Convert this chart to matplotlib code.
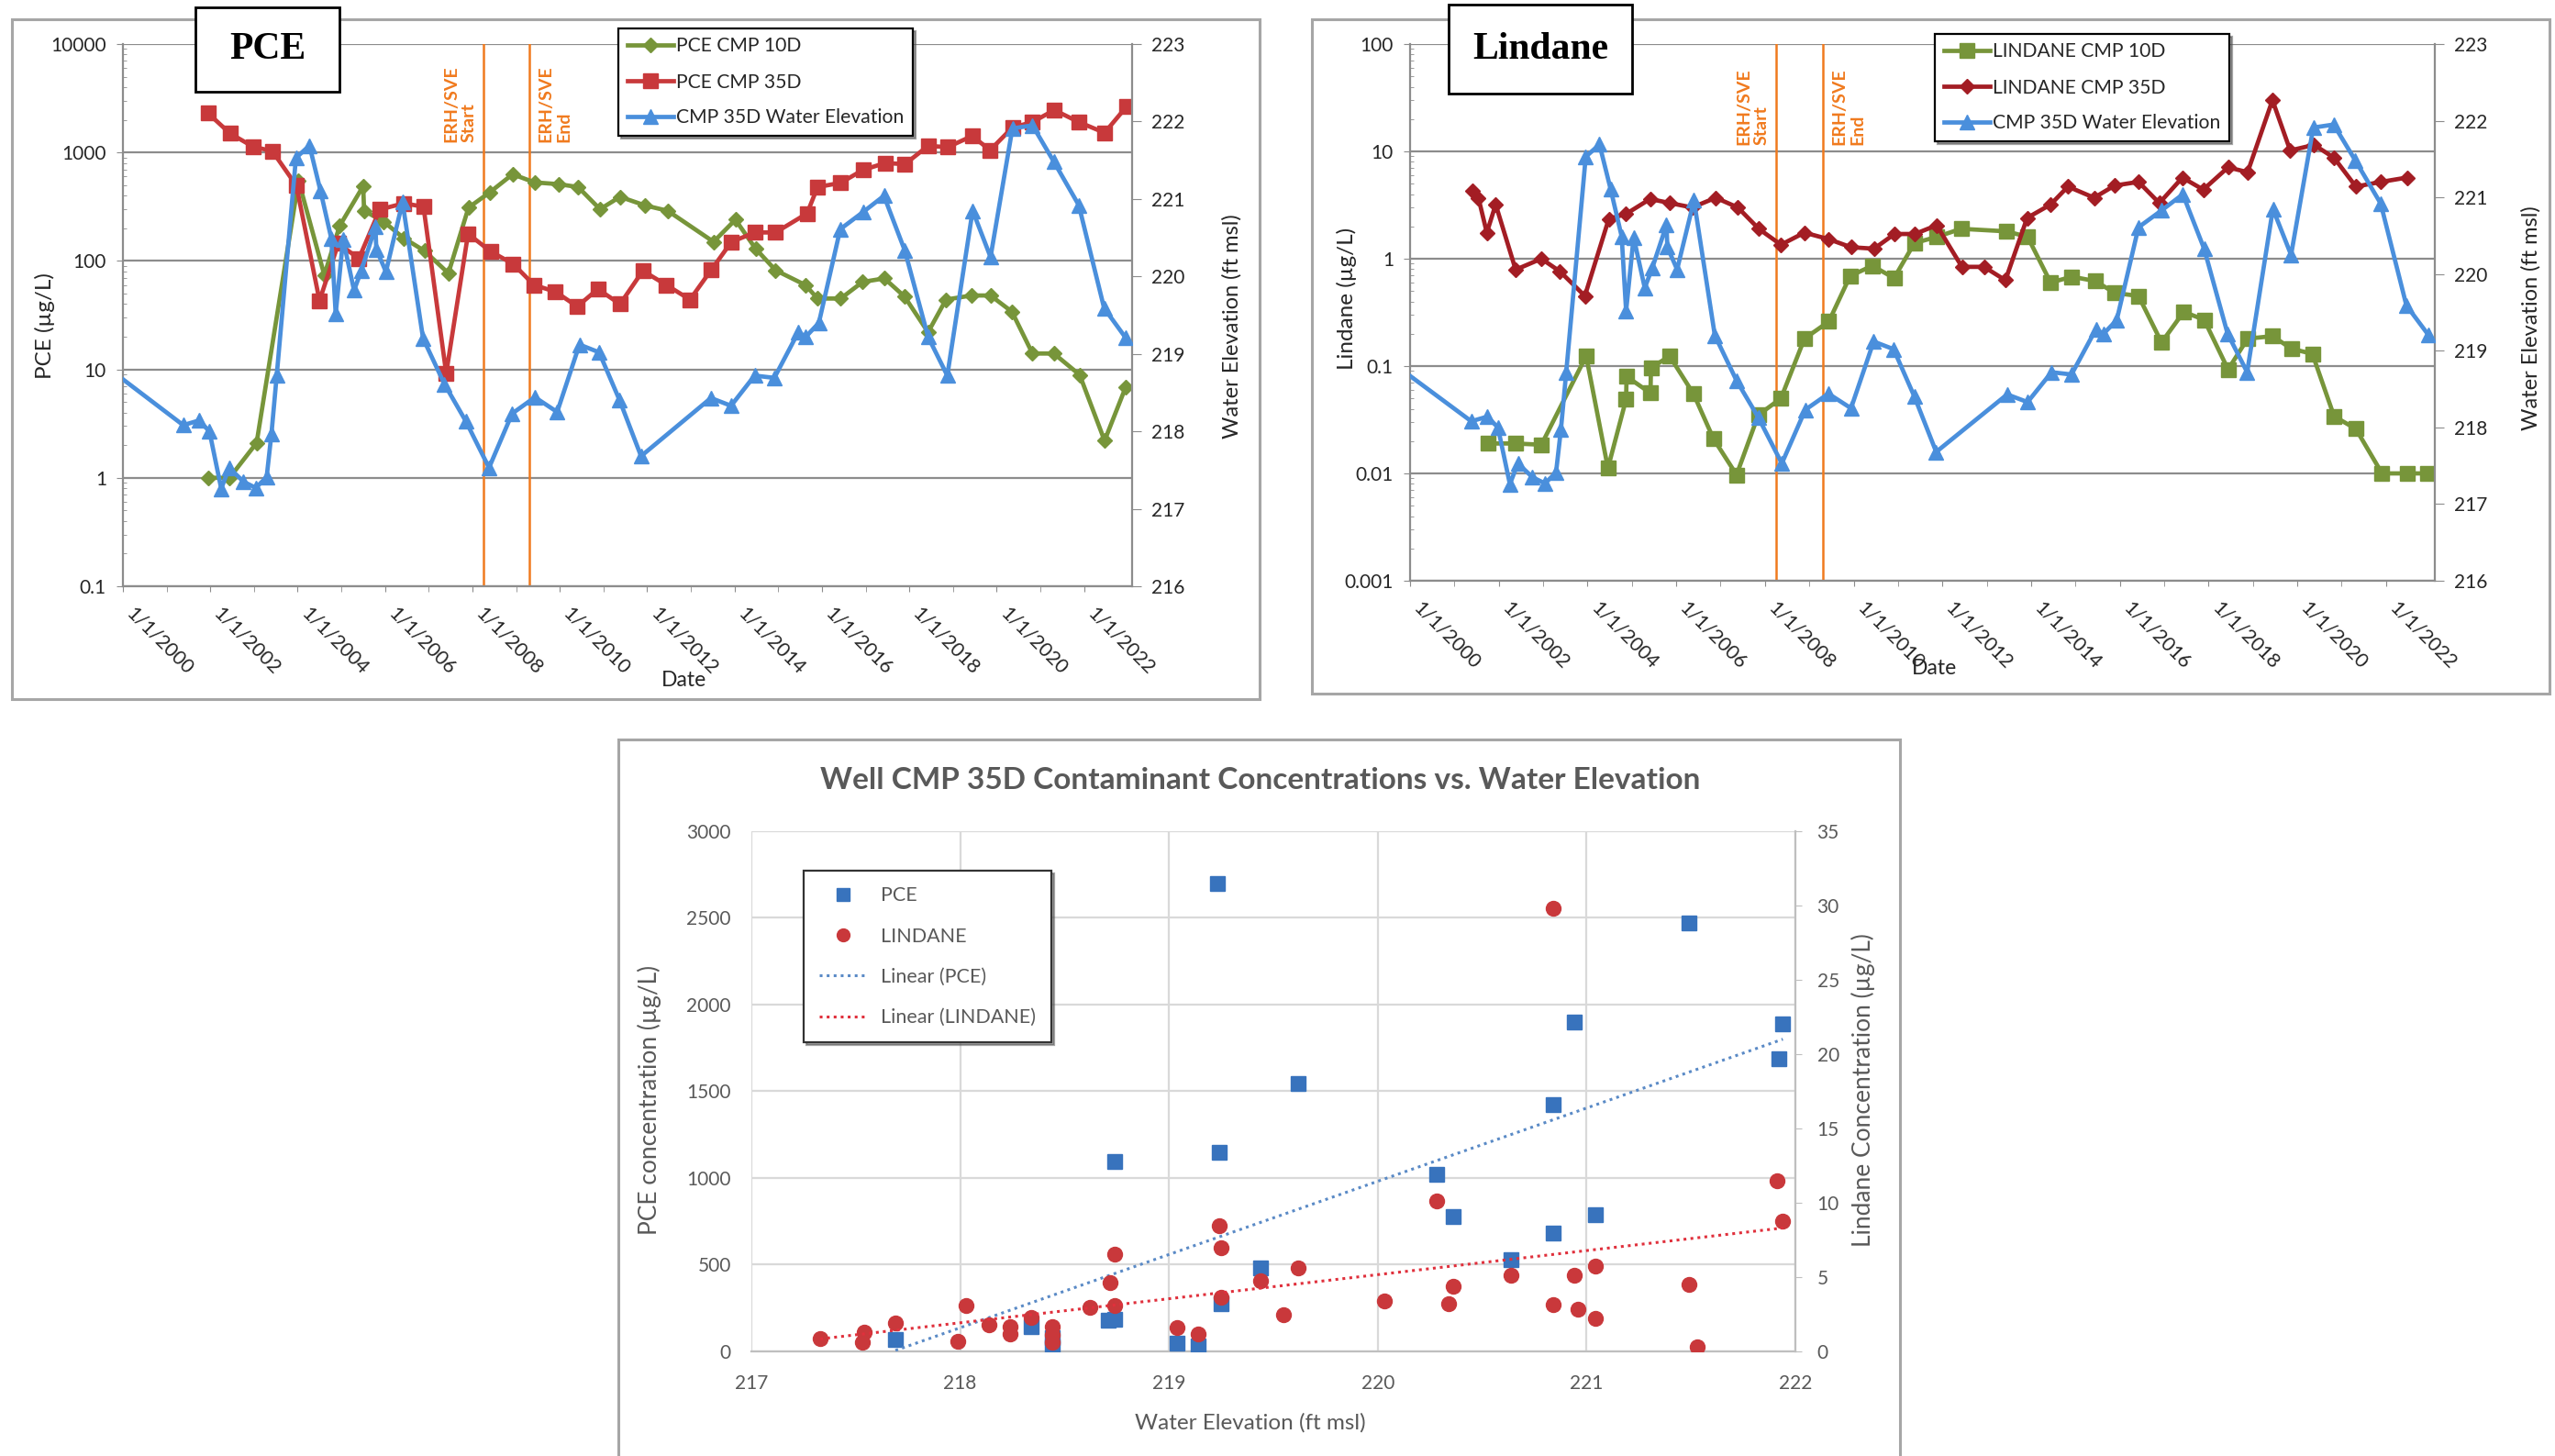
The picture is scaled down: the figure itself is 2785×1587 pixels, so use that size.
import numpy as np
import matplotlib
matplotlib.use('Agg')
import matplotlib.pyplot as plt
from matplotlib.patches import Rectangle
from matplotlib.lines import Line2D
from matplotlib.ticker import FuncFormatter, NullFormatter, LogLocator

plt.rcParams['font.family'] = ['Lato', 'DejaVu Sans']

# --- Data (decimal years) ---
# CMP 35D water elevation, ft msl (same well in both time charts)
elev_dates = [1999.0, 2001.38, 2001.74, 2001.98, 2002.25, 2002.43, 2002.76, 2003.04, 2003.29, 2003.40,
              2003.52, 2003.96, 2004.27, 2004.52, 2004.77, 2004.87, 2005.04, 2005.29, 2005.46, 2005.78,
              2005.80, 2006.02, 2006.40, 2006.87, 2007.36, 2007.85, 2008.38, 2008.91, 2009.43, 2009.94,
              2010.45, 2010.90, 2011.37, 2011.86, 2013.46, 2013.92, 2014.46, 2014.91, 2015.46, 2015.63,
              2015.93, 2016.42, 2016.94, 2017.42, 2017.90, 2018.43, 2018.87, 2019.45, 2019.86, 2020.36,
              2020.82, 2021.31, 2021.88, 2022.46, 2022.95]
elev_ft = [219.1, 218.08, 218.14, 218.0, 217.26, 217.53, 217.35, 217.27, 217.41, 217.97,
           218.72, 221.53, 221.69, 221.11, 220.49, 219.52, 220.48, 219.82, 220.08, 220.64,
           220.35, 220.06, 220.96, 219.2, 218.61, 218.13, 217.53, 218.23, 218.44, 218.25,
           219.12, 219.02, 218.4, 217.68, 218.43, 218.33, 218.72, 218.69, 219.28, 219.22,
           219.4, 220.61, 220.83, 221.04, 220.33, 219.22, 218.72, 220.85, 220.25, 221.91,
           221.95, 221.48, 220.92, 219.59, 219.21]

pce_10d_dates = [2001.95, 2002.44, 2003.06, 2004.02, 2004.61, 2004.96, 2005.50, 2005.52, 2005.97, 2006.43,
                 2006.90, 2007.45, 2007.91, 2008.40, 2008.92, 2009.42, 2009.98, 2010.42, 2010.92, 2011.38,
                 2011.95, 2012.47, 2013.52, 2014.02, 2014.48, 2014.94, 2015.62, 2015.90, 2016.43, 2016.93,
                 2017.43, 2017.89, 2018.43, 2018.84, 2019.42, 2019.86, 2020.35, 2020.82, 2021.31, 2021.90,
                 2022.47, 2022.95]
pce_10d = [1.0, 1.0, 2.1, 550, 74, 210, 490, 290, 230, 162,
           124, 77, 310, 430, 630, 530, 510, 480, 300, 390,
           325, 290, 150, 240, 130, 82, 60, 45, 45, 64,
           69, 47, 22, 44, 48, 48, 34, 14, 14, 8.9,
           2.2, 6.8]

pce_35d_dates = [2001.95, 2002.45, 2002.98, 2003.42, 2003.97, 2004.50, 2004.93, 2005.40, 2005.88, 2006.43,
                 2006.88, 2007.40, 2007.90, 2008.42, 2008.93, 2009.41, 2009.90, 2010.40, 2010.87, 2011.38,
                 2011.90, 2012.44, 2012.98, 2013.47, 2013.93, 2014.47, 2014.94, 2015.66, 2015.90, 2016.43,
                 2016.94, 2017.45, 2017.90, 2018.43, 2018.88, 2019.44, 2019.85, 2020.36, 2020.81, 2021.32,
                 2021.89, 2022.47, 2022.97]
pce_35d = [2300, 1500, 1130, 1030, 495, 43, 145, 105, 298, 340,
           316, 9.2, 178, 122, 94, 60, 52, 38, 55, 40,
           81, 60, 44, 83, 150, 183, 183, 274, 480, 525,
           690, 800, 780, 1150, 1120, 1420, 1050, 1700, 1900, 2460,
           1900, 1520, 2640]

lin_10d_dates = [2001.76, 2002.37, 2002.96, 2003.97, 2004.46, 2004.87, 2004.88, 2005.42, 2005.43, 2005.85,
                 2006.39, 2006.84, 2007.36, 2007.85, 2008.36, 2008.89, 2009.44, 2009.92, 2010.42, 2010.91,
                 2011.37, 2011.88, 2012.42, 2013.44, 2013.92, 2014.44, 2014.92, 2015.44, 2015.89, 2016.42,
                 2016.94, 2017.44, 2017.90, 2018.44, 2018.88, 2019.44, 2019.87, 2020.34, 2020.83, 2021.32,
                 2021.91, 2022.47, 2022.94]
lin_10d = [0.019, 0.019, 0.0185, 0.124, 0.0112, 0.049, 0.080, 0.056, 0.096, 0.124,
           0.055, 0.021, 0.0097, 0.035, 0.050, 0.18, 0.26, 0.69, 0.86, 0.66,
           1.4, 1.6, 1.9, 1.8, 1.6, 0.6, 0.68, 0.62, 0.48, 0.45,
           0.166, 0.32, 0.27, 0.093, 0.18, 0.19, 0.145, 0.13, 0.034, 0.026,
           0.01, 0.01, 0.01]

lin_35d_dates = [2001.40, 2001.54, 2001.73, 2001.93, 2002.38, 2002.96, 2003.38, 2003.94, 2004.48, 2004.86,
                 2005.41, 2005.86, 2006.36, 2006.89, 2007.39, 2007.86, 2008.36, 2008.89, 2009.44, 2009.94,
                 2010.46, 2010.92, 2011.38, 2011.87, 2012.44, 2012.94, 2013.42, 2013.91, 2014.44, 2014.83,
                 2015.42, 2015.88, 2016.42, 2016.89, 2017.41, 2017.88, 2018.44, 2018.88, 2019.44, 2019.84,
                 2020.38, 2020.83, 2021.32, 2021.89, 2022.47]
lin_35d = [4.3, 3.7, 1.75, 3.2, 0.79, 1.0, 0.76, 0.45, 2.35, 2.6,
           3.6, 3.3, 3.0, 3.7, 3.0, 1.9, 1.35, 1.75, 1.52, 1.28,
           1.24, 1.7, 1.7, 2.05, 0.84, 0.84, 0.63, 2.4, 3.2, 4.7,
           3.7, 4.8, 5.2, 3.3, 5.7, 4.4, 7.1, 6.4, 30, 10.2,
           11.5, 8.7, 4.7, 5.2, 5.7]

erh_start, erh_end = 2008.25, 2009.30
date_ticks = list(range(2000, 2023, 2))
date_labels = ['1/1/%d' % y for y in date_ticks]

# scatter: well CMP 35D concentration vs water elevation
sc_pce_elev = [217.69, 218.34, 218.44, 218.44, 218.71, 218.74, 218.74, 219.04, 219.14, 219.23,
               219.24, 219.25, 219.44, 219.62, 220.28, 220.36, 220.64, 220.84, 220.84, 220.94,
               221.04, 221.49, 221.92, 221.94]
sc_pce = [67, 142, 25, 80, 178, 186, 1094, 49, 30, 2695,
          1147, 277, 480, 1545, 1018, 778, 527, 1420, 682, 1898,
          786, 2469, 1686, 1885]
sc_lin_elev = [217.33, 217.54, 217.53, 217.69, 217.99, 218.03, 218.14, 218.24, 218.24, 218.34,
               218.44, 218.44, 218.44, 218.62, 218.72, 218.74, 218.74, 219.04, 219.14, 219.24,
               219.25, 219.25, 219.44, 219.55, 219.62, 220.03, 220.28, 220.34, 220.36, 220.64,
               220.84, 220.84, 220.94, 220.96, 221.04, 221.04, 221.49, 221.53, 221.91, 221.94]
sc_lin = [0.88, 1.29, 0.61, 1.90, 0.68, 3.07, 1.80, 1.66, 1.19, 2.31,
          1.66, 1.1, 0.61, 2.93, 4.63, 3.07, 6.51, 1.60, 1.19, 8.45,
          6.98, 3.64, 4.77, 2.48, 5.59, 3.39, 10.1, 3.22, 4.35, 5.10,
          29.8, 3.16, 5.10, 2.86, 5.71, 2.20, 4.53, 0.33, 11.5, 8.73]

# --- Colours ---
GREEN = '#77953a'
RED = '#c8393b'
DARKRED = '#a31d24'
BLUE = '#4a8fdc'
ORANGE = '#f07a1e'
GRID = '#8c8c8c'
TXT = '#262626'

W, H = 2785, 1587
fig = plt.figure(figsize=(W / 100, H / 100), dpi=100)


def px_rect(x0, y0, x1, y1):
    # pixel box measured from top-left -> figure fraction [l, b, w, h]
    return [x0 / W, 1 - y1 / H, (x1 - x0) / W, (y1 - y0) / H]


def frame(x0, y0, x1, y1, color='#a6a6a6', lw=2.2):
    l, b, w, h = px_rect(x0, y0, x1, y1)
    fig.add_artist(Rectangle((l, b), w, h, transform=fig.transFigure, fill=False,
                             edgecolor=color, linewidth=lw, zorder=-1))


def title_box(x0, y0, x1, y1, text):
    l, b, w, h = px_rect(x0, y0, x1, y1)
    fig.add_artist(Rectangle((l, b), w, h, transform=fig.transFigure, facecolor='white',
                             edgecolor='black', linewidth=2, zorder=5))
    fig.text(l + w / 2, b + h / 2, text, ha='center', va='center', fontsize=30,
             fontweight='bold', family='Liberation Serif', zorder=6)


def time_panel(ax_px, series, ylabel, ylim, yticks, erh_y, legend_xy, ylab_pos, rlab_pos, date_pos):
    ax = fig.add_axes(px_rect(*ax_px))
    ax.set_yscale('log')
    ax.set_ylim(*ylim)
    ax.set_xlim(2000, 2023.1)
    ax.set_yticks(yticks)
    ax.yaxis.set_major_formatter(FuncFormatter(lambda v, p: '%g' % v))
    ax.yaxis.set_minor_locator(LogLocator(base=10, subs=np.arange(2, 10)))
    ax.yaxis.set_minor_formatter(NullFormatter())
    ax.set_xticks(date_ticks)
    ax.set_xticklabels(date_labels, rotation=-45, ha='left', rotation_mode='default')
    ax.set_xticks(range(2001, 2023, 2), minor=True)
    ax.grid(axis='y', which='major', color=GRID, lw=1.6)
    ax.set_axisbelow(True)
    for s in ['top', 'right']:
        ax.spines[s].set_visible(False)
    for s in ['left', 'bottom']:
        ax.spines[s].set_color(GRID)
        ax.spines[s].set_linewidth(1.6)
    ax.tick_params(axis='y', which='major', direction='out', length=5, color=GRID,
                   labelsize=15, labelcolor=TXT, pad=8)
    ax.tick_params(axis='y', which='minor', direction='in', length=3, color=GRID)
    ax.tick_params(axis='x', which='both', direction='out', length=4, color=GRID,
                   labelsize=15.5, labelcolor=TXT, pad=10)

    handles = []
    for d, v, lab, color, mk, ms in series:
        h, = ax.plot(d, v, color=color, lw=3.4, marker=mk, ms=ms, label=lab, zorder=3)
        handles.append(h)

    ax.axvline(erh_start, color=ORANGE, lw=1.8, zorder=1)
    ax.axvline(erh_end, color=ORANGE, lw=1.8, zorder=1)
    ax.annotate('ERH/SVE\nStart', xy=(erh_start, erh_y), xytext=(-5, 0), textcoords='offset points',
                rotation=90, ha='right', va='bottom', multialignment='left', color=ORANGE,
                fontsize=14, fontweight='bold')
    ax.annotate('ERH/SVE\nEnd', xy=(erh_end, erh_y), xytext=(7, 0), textcoords='offset points',
                rotation=90, ha='left', va='bottom', multialignment='left', color=ORANGE,
                fontsize=14, fontweight='bold')

    ax.set_ylabel(ylabel, fontsize=17.5, color=TXT)
    ax.yaxis.set_label_coords(*ylab_pos)
    ax.text(date_pos[0], date_pos[1], 'Date', transform=ax.transAxes, ha='center', va='center',
            fontsize=16.5, color=TXT)

    ax2 = ax.twinx()
    ax2.set_ylim(216, 223)
    ax2.set_yticks(range(216, 224))
    h, = ax2.plot(elev_dates, elev_ft, color=BLUE, lw=3.4, marker='^', ms=11,
                  label='CMP 35D Water Elevation', zorder=4)
    handles.append(h)
    for s in ['top', 'left', 'bottom']:
        ax2.spines[s].set_visible(False)
    ax2.spines['right'].set_color(GRID)
    ax2.spines['right'].set_linewidth(1.6)
    ax2.tick_params(axis='y', direction='out', length=7, color=GRID, labelsize=15,
                    labelcolor=TXT, pad=8)
    ax2.set_ylabel('Water Elevation (ft msl)', fontsize=17, color=TXT)
    ax2.yaxis.set_label_coords(*rlab_pos)

    leg = ax2.legend(handles, [hh.get_label() for hh in handles], loc='upper left',
                     bbox_to_anchor=(legend_xy[0] / W, 1 - legend_xy[1] / H),
                     bbox_transform=fig.transFigure, frameon=True, fancybox=False, shadow=True,
                     edgecolor='black', fontsize=15.2, handlelength=2.4, handletextpad=0.15,
                     borderpad=0.45, labelspacing=0.9, borderaxespad=0, numpoints=1)
    leg.get_frame().set_linewidth(1.6)
    for t in leg.get_texts():
        t.set_color(TXT)
    return ax, ax2


# --- PCE panel ---
frame(13, 21, 1373, 762)
time_panel((134, 48, 1234, 639),
           [(pce_10d_dates, pce_10d, 'PCE CMP 10D', GREEN, 'D', 8),
            (pce_35d_dates, pce_35d, 'PCE CMP 35D', RED, 's', 11)],
           'PCE (µg/L)', (0.1, 10000), [0.1, 1, 10, 100, 1000, 10000], 1245,
           (674, 31), (-0.067, 0.48), (1.0895, 0.48), (0.556, -0.173))
title_box(213, 8, 370, 100, 'PCE')

# --- Lindane panel ---
frame(1430, 21, 2779, 756)
time_panel((1537, 48, 2654, 633),
           [(lin_10d_dates, lin_10d, 'LINDANE CMP 10D', GREEN, 's', 11),
            (lin_35d_dates, lin_35d, 'LINDANE CMP 35D', DARKRED, 'D', 8)],
           'Lindane (µg/L)', (0.001, 100), [0.001, 0.01, 0.1, 1, 10, 100], 11.5,
           (2109, 37), (-0.052, 0.525), (1.084, 0.49), (0.512, -0.164))
title_box(1579, 5, 1779, 102, 'Lindane')

# --- Scatter panel ---
SC_TXT = '#595959'
SC_BLUE = '#3873bd'
SC_RED = '#c9383b'
frame(674, 806, 2071, 1600)
axs = fig.add_axes(px_rect(819, 905.5, 1957, 1473))
axs.set_xlim(217, 222)
axs.set_ylim(0, 3000)
axs.set_xticks(range(217, 223))
axs.set_yticks(range(0, 3001, 500))
axs.grid(True, color='#d9d9d9', lw=1.6)
axs.set_axisbelow(True)
for s in ['left', 'top', 'right']:
    axs.spines[s].set_visible(False)
axs.spines['bottom'].set_color('#bfbfbf')
axs.spines['bottom'].set_linewidth(1.6)
axs.tick_params(length=0, labelsize=15, labelcolor=SC_TXT)
axs.tick_params(axis='y', pad=16)
axs.tick_params(axis='x', pad=18)
axs.plot(sc_pce_elev, sc_pce, linestyle='none', marker='s', ms=11.5, color=SC_BLUE, zorder=3)
p_fit = np.polyfit(sc_pce_elev, sc_pce, 1)
xs_p = np.array([min(sc_pce_elev), max(sc_pce_elev)])
axs.plot(xs_p, np.polyval(p_fit, xs_p), color='#5a8ac6', lw=2.2, linestyle=(0, (1, 1.5)), zorder=4)
axs.set_xlabel('Water Elevation (ft msl)', fontsize=17.5, color=SC_TXT)
axs.xaxis.set_label_coords(0.478, -0.118)
axs.set_ylabel('PCE concentration (µg/L)', fontsize=19, color=SC_TXT)
axs.yaxis.set_label_coords(-0.0857, 0.483)

axl = axs.twinx()
axl.set_ylim(0, 35)
axl.set_yticks(range(0, 36, 5))
for s in ['left', 'top', 'bottom']:
    axl.spines[s].set_visible(False)
axl.spines['right'].set_color('#bfbfbf')
axl.spines['right'].set_linewidth(1.6)
axl.tick_params(axis='y', length=5, color='#bfbfbf', labelsize=15, labelcolor=SC_TXT, pad=12)
axl.plot(sc_lin_elev, sc_lin, linestyle='none', marker='o', ms=11.5, color=SC_RED, zorder=3)
l_fit = np.polyfit(sc_lin_elev, sc_lin, 1)
xs_l = np.array([min(sc_lin_elev), max(sc_lin_elev)])
axl.plot(xs_l, np.polyval(l_fit, xs_l), color='#e0303c', lw=2.2, linestyle=(0, (1, 1.5)), zorder=4)
axl.set_ylabel('Lindane Concentration (µg/L)', fontsize=19, color=SC_TXT)
axl.yaxis.set_label_coords(1.0536, 0.502)

sc_handles = [Line2D([], [], linestyle='none', marker='s', ms=10, color=SC_BLUE),
              Line2D([], [], linestyle='none', marker='o', ms=10, color=SC_RED),
              Line2D([], [], color='#5a8ac6', lw=2.2, linestyle=(0, (1, 1.5))),
              Line2D([], [], color='#e0303c', lw=2.2, linestyle=(0, (1, 1.5)))]
sc_leg = axl.legend(sc_handles, ['PCE', 'LINDANE', 'Linear (PCE)', 'Linear (LINDANE)'],
                    loc='upper left', bbox_to_anchor=(876 / W, 1 - 949 / H),
                    bbox_transform=fig.transFigure, frameon=True, fancybox=False, shadow=True,
                    edgecolor='#333333', fontsize=15.5, handlelength=2.4, handletextpad=0.7,
                    borderpad=0.8, labelspacing=1.13, borderaxespad=0)
sc_leg.get_frame().set_linewidth(1.6)
for t in sc_leg.get_texts():
    t.set_color(SC_TXT)

fig.text(1374 / W, 1 - 850 / H, 'Well CMP 35D Contaminant Concentrations vs. Water Elevation',
         ha='center', va='center', fontsize=24, fontweight='bold', color=SC_TXT)

fig.savefig('out.png', dpi=100)
